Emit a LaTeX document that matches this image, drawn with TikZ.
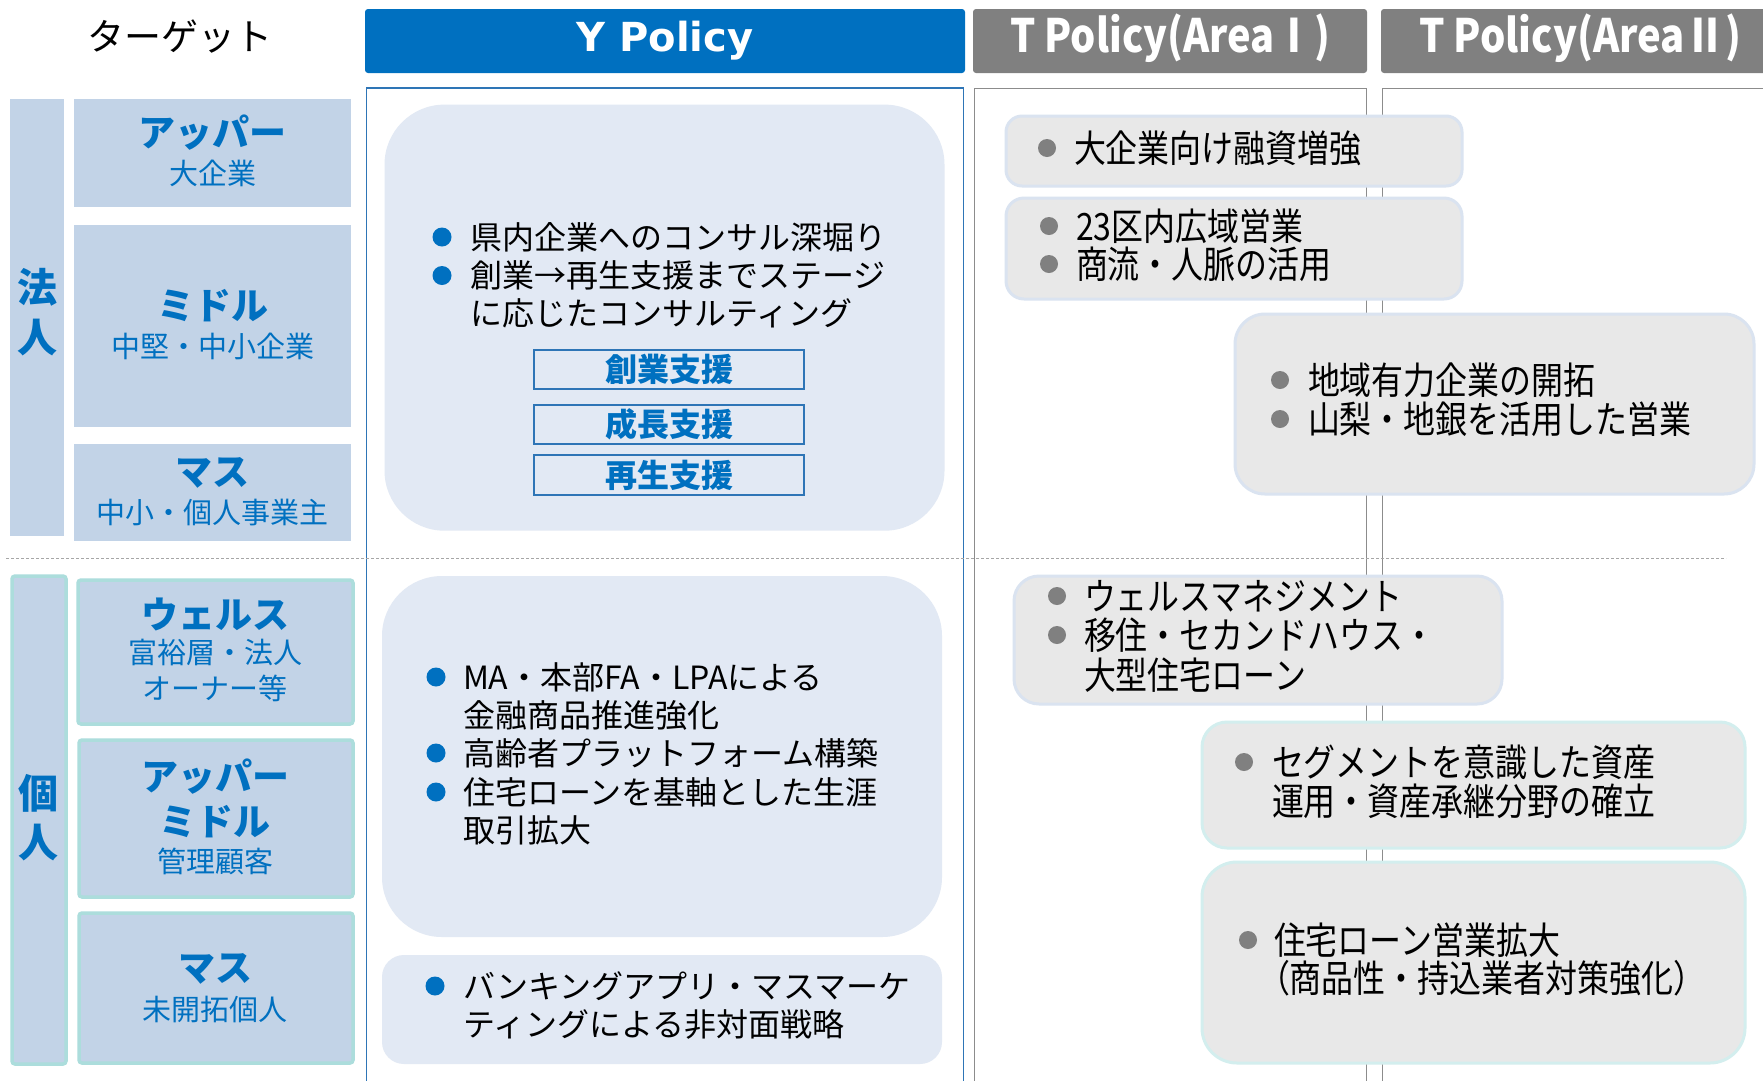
\documentclass[tikz,border=0pt]{standalone}
\usepackage{fontspec}
\usepackage{graphicx}
\setmainfont{Noto Sans CJK JP}
\newfontfamily\tfont[FakeStretch=0.85]{Noto Sans CJK JP}
\newfontfamily\dvfont{DejaVu Sans}
\definecolor{myblue}{HTML}{0070C0}
\definecolor{pblue}{HTML}{2E75B6}
\definecolor{hgray}{HTML}{808080}
\definecolor{pgray}{HTML}{8C8C8C}
\definecolor{lfill}{HTML}{C2D3E7}
\definecolor{tealb}{HTML}{ACDDDC}
\definecolor{yfill}{HTML}{E2E9F4}
\definecolor{tfill}{HTML}{E8E8E8}
\definecolor{tborder}{HTML}{DAE3F0}
\definecolor{tborder2}{HTML}{D3EEEE}
\definecolor{bgray}{HTML}{808080}
\begin{document}
\begin{tikzpicture}[x=1pt,y=-1pt,
  every node/.style={inner sep=0pt, outer sep=0pt},
  lbig/.style={font=\bfseries\fontsize{37}{37}\selectfont, text=myblue, anchor=base},
  lsmall/.style={font=\fontsize{29}{29}\selectfont, text=myblue, anchor=base},
  lvert/.style={font=\bfseries\fontsize{40}{40}\selectfont, text=myblue, anchor=base},
  ytext/.style={font=\fontsize{32}{32}\selectfont, text=black, anchor=base west},
  ysub/.style={font=\bfseries\fontsize{32}{32}\selectfont, text=myblue, anchor=base},
  ttext/.style={font=\tfont\fontsize{37.6}{37.6}\selectfont, text=black, anchor=base west},
  ybul/.style={fill=myblue},
  tbul/.style={fill=bgray},
  ybox/.style={fill=yfill},
  tbox/.style={fill=tfill, draw=tborder, line width=3pt},
  tbox2/.style={fill=tfill, draw=tborder2, line width=3pt},
  lbox/.style={fill=lfill},
  ibox/.style={fill=lfill, draw=tealb, line width=3.5pt, rounded corners=3pt},
  subbox/.style={draw=pblue, line width=1.5pt}
]
\useasboundingbox (0,0) rectangle (1763,1080);
\fill[white] (0,0) rectangle (1763,1080);

% headers
\node[font=\fontsize{37}{37}\selectfont, anchor=base] (target) at (180,50) {ターゲット};
\fill[myblue, rounded corners=3pt] (365,9) rectangle (965,73);
\node[font=\dvfont\bfseries\fontsize{40}{40}\selectfont, text=white, anchor=base] (yhead) at (665,51) {Y Policy};
\fill[hgray, rounded corners=3pt] (973,9) rectangle (1367,73);
\node[text=white, anchor=base] (t1head) at (1170,52) {\resizebox{320pt}{\height}{\bfseries\fontsize{46}{46}\selectfont T Policy(AreaⅠ)}};
\fill[hgray, rounded corners=3pt] (1381,9) rectangle (1795,73);
\node[text=white, anchor=base] (t2head) at (1580,52) {\resizebox{322pt}{\height}{\bfseries\fontsize{46}{46}\selectfont T Policy(AreaⅡ)}};

% panels
\draw[pblue, line width=1.5pt] (366.6,1095) -- (366.6,88) -- (963.6,88) -- (963.6,1095);
\draw[pgray, line width=1pt] (974,1095) -- (974,88) -- (1366,88) -- (1366,1095);
\draw[pgray, line width=1pt] (1382,1095) -- (1382,88) -- (1795,88);

% dashed separator
\draw[gray!70, line width=0.8pt, dash pattern=on 3pt off 2pt] (6,558) -- (1726,558);

% left: corporate
\fill[lfill] (10,99) rectangle (64,536);
\node[lvert] (hou) at (37,302) {法};
\node[lvert] (jin) at (37,352) {人};
\fill[lbox] (74,99) rectangle (351,207);
\fill[lbox] (74,225) rectangle (351,427);
\fill[lbox] (74,444) rectangle (351,541);
\node[lbig] (cu1) at (212.5,146) {アッパー};
\node[lsmall] (cu2) at (212.5,184) {大企業};
\node[lbig] (cm1) at (212.5,319) {ミドル};
\node[lsmall] (cm2) at (212.5,357) {中堅・中小企業};
\node[lbig] (cs1) at (212.5,485) {マス};
\node[lsmall] (cs2) at (212.5,523) {中小・個人事業主};

% left: individual
\filldraw[ibox] (12,576) rectangle (66,1064);
\node[lvert] (ko) at (38,808) {個};
\node[lvert] (jin2) at (38,857) {人};
\filldraw[ibox] (78,580) rectangle (353,724);
\filldraw[ibox] (79,740) rectangle (353,897);
\filldraw[ibox] (79,913) rectangle (353,1063);
\node[lbig] (iw1) at (215,628) {ウェルス};
\node[lsmall] (iw2) at (215,663) {富裕層・法人};
\node[lsmall] (iw3) at (215,699) {オーナー等};
\node[lbig] (iu1) at (215,790) {アッパー};
\node[lbig] (iu2) at (215,835) {ミドル};
\node[lsmall] (iu3) at (215,872) {管理顧客};
\node[lbig] (im1) at (215,981) {マス};
\node[lsmall] (im2) at (215,1020) {未開拓個人};

% Y policy boxes
\fill[ybox, rounded corners=60pt] (384.5,104.6) rectangle (944.5,530.7);
\fill[ybul] (442,237) circle (9.5);
\fill[ybul] (442,275.5) circle (9.5);
\node[ytext] (y1a) at (470,249) {県内企業へのコンサル深堀り};
\node[ytext] (y1b) at (470,287.5) {創業→再生支援までステージ};
\node[ytext] (y1c) at (470,325.7) {に応じたコンサルティング};
\draw[subbox] (534,350) rectangle (804,389);
\draw[subbox] (534,405) rectangle (804,444);
\draw[subbox] (534,455) rectangle (804,495);
\node[ysub] (s1) at (669,381.5) {創業支援};
\node[ysub] (s2) at (669,436.5) {成長支援};
\node[ysub] (s3) at (669,487) {再生支援};

\fill[ybox, rounded corners=60pt] (382,576) rectangle (942,937);
\fill[ybul] (436,677) circle (9.5);
\fill[ybul] (436,753) circle (9.5);
\fill[ybul] (436,792) circle (9.5);
\node[ytext] (y2a) at (463,689) {MA・本部FA・LPAによる};
\node[ytext] (y2b) at (463,727) {金融商品推進強化};
\node[ytext] (y2c) at (463,765) {高齢者プラットフォーム構築};
\node[ytext] (y2d) at (463,804) {住宅ローンを基軸とした生涯};
\node[ytext] (y2e) at (463,842) {取引拡大};

\fill[ybox, rounded corners=22pt] (382,955) rectangle (942,1064);
\fill[ybul] (435,986) circle (9.5);
\node[ytext] (y3a) at (463,998) {バンキングアプリ・マスマーケ};
\node[ytext] (y3b) at (463,1036) {ティングによる非対面戦略};

% T policy boxes
\filldraw[tbox, rounded corners=16pt] (1006,116) rectangle (1462,186);
\fill[tbul] (1047,148) circle (9);
\node[ttext] (t1a) at (1074,162) {大企業向け融資増強};

\filldraw[tbox, rounded corners=18pt] (1006,198) rectangle (1462,299);
\fill[tbul] (1049,226) circle (9);
\fill[tbul] (1049,264) circle (9);
\node[ttext] (t2a) at (1076,240) {23区内広域営業};
\node[ttext] (t2b) at (1076,278) {商流・人脈の活用};

\filldraw[tbox, rounded corners=30pt] (1235,314) rectangle (1754,494);
\fill[tbul] (1280,380) circle (9);
\fill[tbul] (1280,419) circle (9);
\node[ttext] (t3a) at (1308,394) {地域有力企業の開拓};
\node[ttext] (t3b) at (1308,433) {山梨・地銀を活用した営業};

\filldraw[tbox, rounded corners=25pt] (1014,576) rectangle (1502,704);
\fill[tbul] (1057,596) circle (9);
\fill[tbul] (1057,635) circle (9);
\node[ttext] (t4a) at (1084,610) {ウェルスマネジメント};
\node[ttext] (t4b) at (1084,649) {移住・セカンドハウス・};
\node[ttext] (t4c) at (1084,689) {大型住宅ローン};

\filldraw[tbox2, rounded corners=25pt] (1202,722) rectangle (1745,848);
\fill[tbul] (1244,762) circle (9);
\node[ttext] (t5a) at (1272,776) {セグメントを意識した資産};
\node[ttext] (t5b) at (1272,815) {運用・資産承継分野の確立};

\filldraw[tbox2, rounded corners=35pt] (1202,862) rectangle (1745,1063);
\fill[tbul] (1248,940) circle (9);
\node[ttext] (t6a) at (1274,954) {住宅ローン営業拡大};
\node[ttext] (t6b) at (1258,992) {（商品性・持込業者対策強化）};
\end{tikzpicture}
\end{document}
